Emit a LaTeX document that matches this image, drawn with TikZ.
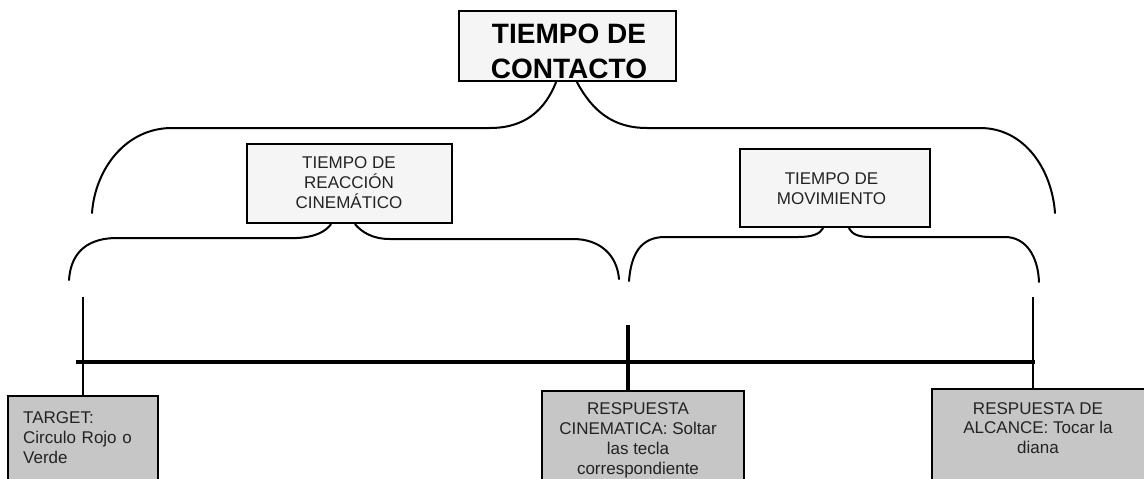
\documentclass[tikz,border=0pt]{standalone}
\usepackage{fontspec}
\setmainfont{Liberation Sans}
\definecolor{boxgray}{RGB}{198,198,198}
\definecolor{boxwhite}{RGB}{245,245,245}
\definecolor{txt}{RGB}{35,35,35}
\tikzset{
  upbox/.style={draw=black, fill=boxwhite, line width=2.6pt, inner sep=0pt},
  lowbox/.style={draw=black, fill=boxgray, line width=2.4pt, inner sep=0pt},
  smalltxt/.style={font=\fontsize{17}{20}\selectfont, text=txt, inner sep=0pt, align=center},
  bracel/.style={line width=2pt, line join=round, line cap=round},
}
\begin{document}
\begin{tikzpicture}[x=1pt,y=-1pt]
\useasboundingbox (0,0) rectangle (1144,479);
\clip (0,0) rectangle (1144,479);
\fill[white] (0,0) rectangle (1144,479);

% top box
\node[upbox, minimum width=217, minimum height=70] (top) at (567.5,46) {};
\node[font=\fontsize{28}{35}\selectfont\bfseries, inner sep=0pt, align=center, anchor=north] (toptxt) at (569,24) {TIEMPO DE\\CONTACTO};

% middle boxes
\node[upbox, minimum width=205, minimum height=79] (reac) at (349.5,183.5) {};
\node[smalltxt, anchor=north] (reactxt) at (349,156) {TIEMPO DE\\REACCIÓN\\CINEMÁTICO};
\node[upbox, minimum width=190, minimum height=78] (mov) at (835,188) {};
\node[smalltxt, anchor=north] (movtxt) at (831.5,172) {TIEMPO DE\\MOVIMIENTO};

% bottom boxes
\node[lowbox, minimum width=150, minimum height=104] (target) at (83,448) {};
\node[smalltxt, align=left, anchor=north west, text width=130] (targettxt) at (23,411) {TARGET:\\Circulo Rojo o\\Verde};
\node[lowbox, minimum width=202, minimum height=109] (cine) at (643,445.5) {};
\node[smalltxt, anchor=north] (cinetxt) at (638,402) {RESPUESTA\\CINEMATICA: Soltar\\las tecla\\correspondiente};
\node[lowbox, minimum width=228, minimum height=111] (alc) at (1046,444.5) {};
\node[smalltxt, anchor=north, font=\fontsize{17}{19.5}\selectfont] (alctxt) at (1038,402) {RESPUESTA DE\\ALCANCE: Tocar la\\diana};

% brace end coordinates
\coordinate (b1l) at (92,213);
\coordinate (b1r) at (1055,213);
\coordinate (b2l) at (69,280);
\coordinate (b2r) at (619,279);
\coordinate (b3l) at (629,281);
\coordinate (b3r) at (1039,282);

% top brace
\draw[bracel] (b1l) .. controls (95,170) and (125,128) .. (172,128) -- (490,128)
  .. controls (525,128) and (545,110) .. (top.south -| 556,0);
\draw[bracel] (top.south -| 577,0) .. controls (592,110) and (612,128) .. (647,128) -- (980,128)
  .. controls (1025,128) and (1052,170) .. (b1r);

% lower-left brace
\draw[bracel] (b2l) .. controls (71,250) and (90,238) .. (117,238) -- (297,238)
  .. controls (315,237) and (325,232) .. (reac.south -| 331,0);
\draw[bracel] (reac.south -| 355,0) .. controls (362,232) and (372,239) .. (390,239) -- (573,239)
  .. controls (600,239) and (617,255) .. (b2r);

% lower-right brace
\draw[bracel] (b3l) .. controls (631,255) and (640,237) .. (665,237) -- (798,237)
  .. controls (812,237) and (820,234) .. (mov.south -| 823,0);
\draw[bracel] (mov.south -| 849,0) .. controls (852,234) and (858,237) .. (870,237) -- (1005,237)
  .. controls (1025,237) and (1038,255) .. (b3r);

% timeline
\coordinate (v1) at (83,297);
\coordinate (v2) at (628,325);
\coordinate (v3) at (1033,297);
\coordinate (tlL) at (76,362);
\coordinate (tlR) at (1035,362);
\draw[line width=4pt] (tlL) -- (tlR);
\draw[line width=2.6pt] (v1) -- (v1 |- target.north);
\draw[line width=4pt] (v2) -- (v2 |- cine.north);
\draw[line width=2pt] (v3) -- (v3 |- alc.north);
\end{tikzpicture}
\end{document}
